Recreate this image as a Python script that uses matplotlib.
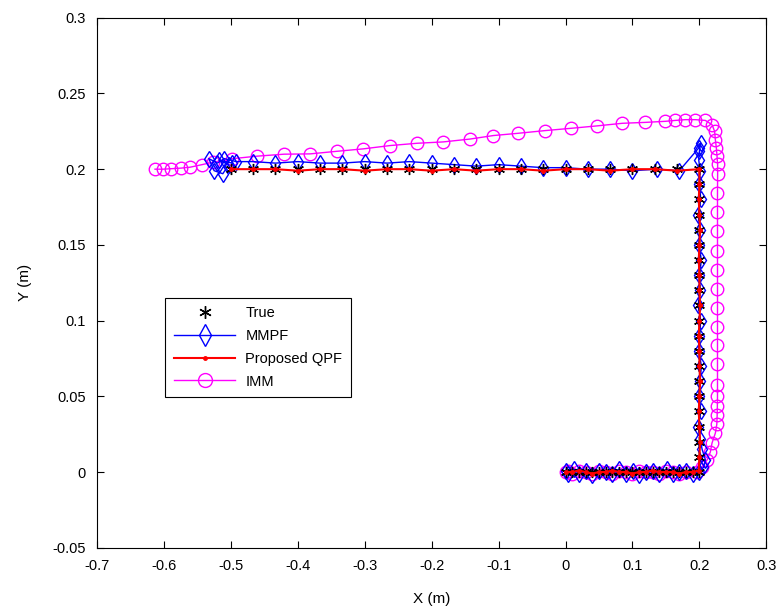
import matplotlib.pyplot as plt
from matplotlib.lines import Line2D

plt.rcParams['font.family'] = ['Liberation Sans', 'DejaVu Sans']

# True trajectory
true_x = [0.00, 0.01, 0.02, 0.03, 0.04, 0.05, 0.06, 0.07, 0.08, 0.09, 0.10,
          0.11, 0.12, 0.13, 0.14, 0.15, 0.16, 0.17, 0.18, 0.19, 0.20,
          0.20, 0.20, 0.20, 0.20, 0.20, 0.20, 0.20, 0.20, 0.20, 0.20,
          0.20, 0.20, 0.20, 0.20, 0.20, 0.20, 0.20, 0.20, 0.20, 0.20,
          0.1667, 0.1333, 0.10, 0.0667, 0.0333, 0.00, -0.0333, -0.0667, -0.10, -0.1333,
          -0.1667, -0.20, -0.2333, -0.2667, -0.30, -0.3333, -0.3667, -0.40, -0.4333, -0.4667, -0.50]
true_y = [0.0] * 21 + \
         [0.01, 0.02, 0.03, 0.04, 0.05, 0.06, 0.07, 0.08, 0.09, 0.10,
          0.11, 0.12, 0.13, 0.14, 0.15, 0.16, 0.17, 0.18, 0.19, 0.20] + \
         [0.2] * 21

# MMPF estimate
mmpf_x = [0.000, 0.004, 0.012, 0.020, 0.031, 0.040, 0.050, 0.061, 0.070, 0.080, 0.090,
          0.101, 0.110, 0.120, 0.130, 0.140, 0.151, 0.160, 0.170, 0.180, 0.190, 0.199,
          0.206, 0.209,
          0.204, 0.201, 0.198, 0.202, 0.199, 0.201, 0.203, 0.199, 0.200, 0.202, 0.198,
          0.201, 0.200, 0.203, 0.199, 0.201, 0.198, 0.202, 0.200, 0.201, 0.199, 0.200,
          0.202, 0.199,
          0.170, 0.1367, 0.100, 0.0667, 0.0333, 0.000, -0.0333, -0.0667, -0.100, -0.1333,
          -0.1667, -0.200, -0.2333, -0.2667, -0.300, -0.3333, -0.3667, -0.400, -0.4333,
          -0.4667, -0.492, -0.510, -0.520, -0.533, -0.525, -0.512, -0.503, -0.518, -0.498]
mmpf_y = [0.001, -0.001, 0.002, -0.001, 0.001, -0.002, 0.001, 0.000, -0.001, 0.002, -0.001,
          0.001, -0.002, 0.000, 0.001, -0.001, 0.002, -0.001, 0.000, 0.001, -0.001, 0.000,
          0.003, 0.008,
          0.015, 0.022, 0.030, 0.040, 0.050, 0.060, 0.070, 0.080, 0.090, 0.100, 0.110,
          0.120, 0.130, 0.140, 0.150, 0.160, 0.170, 0.180, 0.190, 0.199, 0.206, 0.212,
          0.217, 0.214,
          0.199, 0.200, 0.199, 0.200, 0.200, 0.201, 0.201, 0.202, 0.203, 0.202,
          0.203, 0.204, 0.205, 0.204, 0.205, 0.204, 0.204, 0.205, 0.204,
          0.205, 0.205, 0.207, 0.204, 0.207, 0.199, 0.197, 0.203, 0.206, 0.204]

# Proposed QPF estimate
qpf_x = [0.000, 0.010, 0.020, 0.030, 0.040, 0.050, 0.060, 0.070, 0.080, 0.090, 0.100,
         0.110, 0.120, 0.130, 0.140, 0.150, 0.160, 0.170, 0.180, 0.190, 0.199,
         0.200, 0.201, 0.200, 0.199, 0.200, 0.201, 0.200, 0.200, 0.199, 0.200,
         0.201, 0.200, 0.200, 0.199, 0.200, 0.201, 0.200, 0.199, 0.200, 0.200,
         0.1667, 0.1333, 0.100, 0.0667, 0.0333, 0.000, -0.0333, -0.0667, -0.100, -0.1333,
         -0.1667, -0.200, -0.2333, -0.2667, -0.300, -0.3333, -0.3667, -0.400, -0.4333, -0.4667, -0.500]
qpf_y = [0.000, 0.000, 0.001, 0.000, -0.001, 0.000, 0.000, 0.001, 0.000, 0.000, -0.001,
         0.000, 0.000, 0.001, 0.000, 0.000, 0.000, -0.001, 0.000, 0.000, 0.001,
         0.010, 0.020, 0.030, 0.040, 0.050, 0.060, 0.070, 0.080, 0.090, 0.100,
         0.110, 0.120, 0.130, 0.140, 0.150, 0.160, 0.170, 0.180, 0.190, 0.200,
         0.199, 0.200, 0.200, 0.199, 0.200, 0.200, 0.199, 0.200, 0.200, 0.199,
         0.200, 0.199, 0.200, 0.200, 0.199, 0.200, 0.200, 0.199, 0.200, 0.200, 0.200]

# IMM estimate
imm_x = [0.000, 0.003, 0.010, 0.020, 0.030, 0.040, 0.050, 0.060, 0.070, 0.080, 0.090,
         0.100, 0.110, 0.120, 0.130, 0.140, 0.150, 0.160, 0.170, 0.180,
         0.1964, 0.2039, 0.2114, 0.2163, 0.2188, 0.2238, 0.2260, 0.2265, 0.2268, 0.2270,
         0.2270, 0.2270, 0.2270, 0.2270, 0.2270, 0.2270, 0.2270, 0.2270, 0.2270, 0.2270,
         0.2270, 0.2272, 0.2272, 0.2263, 0.2253, 0.2238, 0.2227, 0.2188, 0.2088, 0.1939,
         0.1789, 0.1640, 0.1490, 0.1191, 0.0848, 0.0474, 0.0085, -0.0300, -0.0707, -0.1080,
         -0.1425, -0.1828, -0.2220, -0.2620, -0.3024, -0.3417, -0.3816, -0.4205, -0.4608,
         -0.4982, -0.5266, -0.5430, -0.5610, -0.5744, -0.5894, -0.6013, -0.6133]
imm_y = [0.000, 0.001, -0.001, 0.001, 0.000, -0.001, 0.001, 0.000, -0.001, 0.001, 0.000,
         -0.001, 0.001, 0.000, 0.000, -0.001, 0.001, 0.000, -0.001, 0.000,
         0.0000, 0.0033, 0.0079, 0.0132, 0.0191, 0.0257, 0.0316, 0.0375, 0.0434, 0.0500,
         0.0572, 0.0711, 0.0836, 0.0961, 0.1086, 0.1211, 0.1336, 0.1461, 0.1592, 0.1717,
         0.1842, 0.1965, 0.2031, 0.2086, 0.2140, 0.2195, 0.2250, 0.2294, 0.2322, 0.2327,
         0.2327, 0.2322, 0.2316, 0.2309, 0.2303, 0.2286, 0.2270, 0.2255, 0.2237, 0.2222,
         0.2199, 0.2180, 0.2171, 0.2156, 0.2134, 0.2118, 0.2101, 0.2099, 0.2086,
         0.2069, 0.2046, 0.2030, 0.2013, 0.2007, 0.2003, 0.2000, 0.2000]

xticks = [-0.7, -0.6, -0.5, -0.4, -0.3, -0.2, -0.1, 0, 0.1, 0.2, 0.3]
xtick_labels = ['-0.7', '-0.6', '-0.5', '-0.4', '-0.3', '-0.2', '-0.1', '0', '0.1', '0.2', '0.3']
yticks = [-0.05, 0, 0.05, 0.1, 0.15, 0.2, 0.25, 0.3]
ytick_labels = ['-0.05', '0', '0.05', '0.1', '0.15', '0.2', '0.25', '0.3']

fig = plt.figure(figsize=(7.82, 6.12), dpi=100)
ax = fig.add_axes([0.124, 0.105, 0.856, 0.866])

ast = (6, 2, 0)
ax.plot(imm_x, imm_y, color='magenta', lw=1, marker='o', ms=9, mfc='none', mew=1)
ax.plot(mmpf_x, mmpf_y, color='blue', lw=1, marker='d', ms=8, mfc='none', mew=1)
ax.plot(true_x, true_y, ls='none', color='black', marker=ast, ms=8, mew=1)
ax.plot(qpf_x, qpf_y, color='red', lw=1.5, marker='.', ms=5)

ax.set_xlim(-0.7, 0.3)
ax.set_ylim(-0.05, 0.3)
ax.set_xticks(xticks)
ax.set_xticklabels(xtick_labels)
ax.set_yticks(yticks)
ax.set_yticklabels(ytick_labels)
ax.tick_params(direction='in', top=True, right=True, labelsize=10.5, length=5)
ax.tick_params(axis='x', pad=8)
ax.tick_params(axis='y', pad=8)
ax.set_xlabel('X (m)', fontsize=11, labelpad=14)
ax.set_ylabel('Y (m)', fontsize=11, labelpad=15)

handles = [
    Line2D([], [], ls='none', color='black', marker=ast, ms=9, mew=1),
    Line2D([], [], color='blue', lw=1, marker='d', ms=11, mfc='none', mew=1),
    Line2D([], [], color='red', lw=1.5, marker='.', ms=5),
    Line2D([], [], color='magenta', lw=1, marker='o', ms=10, mfc='none', mew=1),
]
leg = ax.legend(handles, ['True', 'MMPF', 'Proposed QPF', 'IMM'],
                loc='upper left', bbox_to_anchor=(0.102, 0.472), fontsize=10.5,
                handlelength=4.2, fancybox=False, edgecolor='black',
                framealpha=1, borderaxespad=0, labelspacing=0.6, borderpad=0.6,
                handletextpad=0.7)
leg.get_frame().set_linewidth(0.8)

fig.savefig('out.png', dpi=100)
